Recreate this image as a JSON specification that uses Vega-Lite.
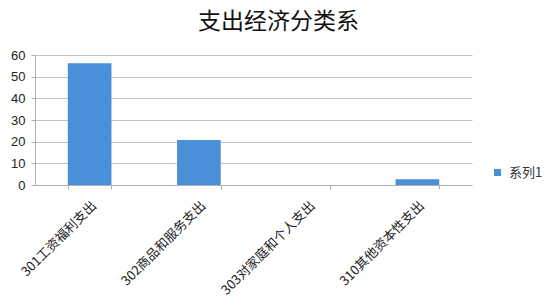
{
  "$schema": "https://vega.github.io/schema/vega-lite/v6.json",
  "autosize": "none",
  "padding": {"left": 35, "top": 55, "right": 83, "bottom": 120},
  "width": 437,
  "height": 130,
  "background": "white",
  "title": {
    "text": "支出经济分类系",
    "font": "Noto Sans CJK SC",
    "fontSize": 23,
    "fontWeight": "normal",
    "color": "#111111",
    "anchor": "middle",
    "dx": 25,
    "offset": 15
  },
  "data": {
    "values": [
      {"category": "301工资福利支出", "value": 56.2, "series": "系列1"},
      {"category": "302商品和服务支出", "value": 20.8, "series": "系列1"},
      {"category": "303对家庭和个人支出", "value": 0, "series": "系列1"},
      {"category": "310其他资本性支出", "value": 2.7, "series": "系列1"}
    ]
  },
  "mark": {"type": "bar"},
  "encoding": {
    "x": {
      "field": "category",
      "type": "nominal",
      "sort": null,
      "title": null,
      "scale": {"paddingInner": 0.6, "paddingOuter": 0.3},
      "axis": {
        "labelAngle": -45,
        "labelFont": "Noto Sans CJK SC",
        "labelFontSize": 13,
        "labelColor": "#222222",
        "labelPadding": 10,
        "tickBand": "extent",
        "tickColor": "#b0b0b0",
        "tickSize": 4,
        "domainColor": "#b0b0b0",
        "grid": false
      }
    },
    "y": {
      "field": "value",
      "type": "quantitative",
      "title": null,
      "scale": {"domain": [0, 60], "nice": false},
      "axis": {
        "values": [0, 10, 20, 30, 40, 50, 60],
        "labelFont": "Liberation Sans",
        "labelFontSize": 13,
        "labelColor": "#222222",
        "labelPadding": 6,
        "tickColor": "#b0b0b0",
        "tickSize": 4,
        "domainColor": "#b0b0b0",
        "gridColor": "#c4c4c4",
        "gridWidth": 1
      }
    },
    "fill": {
      "field": "series",
      "type": "nominal",
      "title": null,
      "scale": {"range": ["#4a90d9"]},
      "legend": {
        "orient": "none",
        "legendX": 456,
        "legendY": 111,
        "symbolType": "square",
        "symbolSize": 50,
        "symbolStrokeWidth": 0,
        "labelFont": "Noto Sans CJK SC",
        "labelFontSize": 13,
        "labelColor": "#333333",
        "labelOffset": 5
      }
    }
  },
  "config": {
    "view": {"stroke": null}
  }
}
